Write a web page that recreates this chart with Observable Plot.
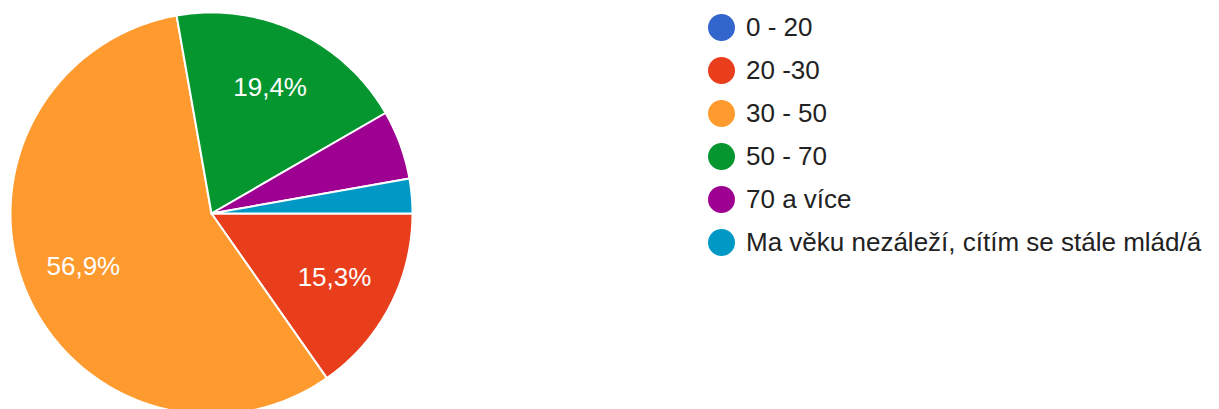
<!DOCTYPE html>
<html>
<head>
<meta charset="utf-8">
<script src="https://cdn.jsdelivr.net/npm/d3@7"></script>
<script src="https://cdn.jsdelivr.net/npm/@observablehq/plot@0.6"></script>
<style>
  html, body { margin: 0; padding: 0; background: #fff; }
  #wrap { position: relative; width: 1219px; height: 409px; overflow: hidden; font-family: "Liberation Sans", Arial, sans-serif; }
  #chart { position: absolute; left: 0; top: 0; }
  #legend { position: absolute; left: 708px; top: 0; }
  .item { position: absolute; left: 0; height: 30px; display: flex; align-items: center; white-space: nowrap; font-size: 26px; color: #222; }
  .sw { width: 27px; height: 27px; border-radius: 50%; margin-right: 11px; flex: none; }
</style>
</head>
<body>
<div id="wrap"><div id="chart"></div><div id="legend"></div></div>
<script>
const categories = ["0 - 20", "20 -30", "30 - 50", "50 - 70", "70 a více", "Ma věku nezáleží, cítím se stále mlád/á"];
const counts = [0, 11, 41, 14, 4, 2];
const colors = ["#3366cc", "#e93e1c", "#fe9a2e", "#05962f", "#9e0092", "#0099c6"];
const startAngle = 90; // degrees clockwise from 12 o'clock

const total = d3.sum(counts);
const pts = [];
const labels = [];
let a0 = startAngle;
categories.forEach((c, i) => {
  const sweep = counts[i] / total * 360;
  if (sweep > 0) {
    const a1 = a0 + sweep;
    pts.push({key: c, x: 0, y: 0});
    const n = Math.max(2, Math.ceil(sweep));
    for (let k = 0; k <= n; k++) {
      const a = (a0 + (a1 - a0) * k / n) * Math.PI / 180;
      pts.push({key: c, x: Math.sin(a), y: Math.cos(a)});
    }
    const pct = counts[i] / total * 100;
    if (pct >= 10) {
      const m = (a0 + a1) / 2 * Math.PI / 180;
      labels.push({x: 0.69 * Math.sin(m), y: 0.69 * Math.cos(m), text: pct.toFixed(1).replace(".", ",") + "%"});
    }
    a0 = a1;
  }
});

const chart = Plot.plot({
  width: 700,
  height: 409,
  margin: 0,
  style: {background: "transparent", overflow: "visible"},
  x: {domain: [-1, 1], range: [10, 412], axis: null},
  y: {domain: [-1, 1], range: [414, 12], axis: null},
  color: {domain: categories, range: colors},
  marks: [
    Plot.line(pts, {x: "x", y: "y", z: "key", fill: "key", stroke: "white", strokeWidth: 2, curve: "linear-closed", strokeLinejoin: "round"}),
    Plot.text(labels, {x: "x", y: "y", text: "text", fill: "white", fontSize: 26, fontFamily: "Liberation Sans, Arial, sans-serif"})
  ]
});
document.getElementById("chart").appendChild(chart);

const legend = document.getElementById("legend");
categories.forEach((c, i) => {
  const row = document.createElement("div");
  row.className = "item";
  row.style.top = (12 + i * 43) + "px";
  const sw = document.createElement("span");
  sw.className = "sw";
  sw.style.background = colors[i];
  const t = document.createElement("span");
  t.textContent = c;
  row.appendChild(sw);
  row.appendChild(t);
  legend.appendChild(row);
});
</script>
</body>
</html>
